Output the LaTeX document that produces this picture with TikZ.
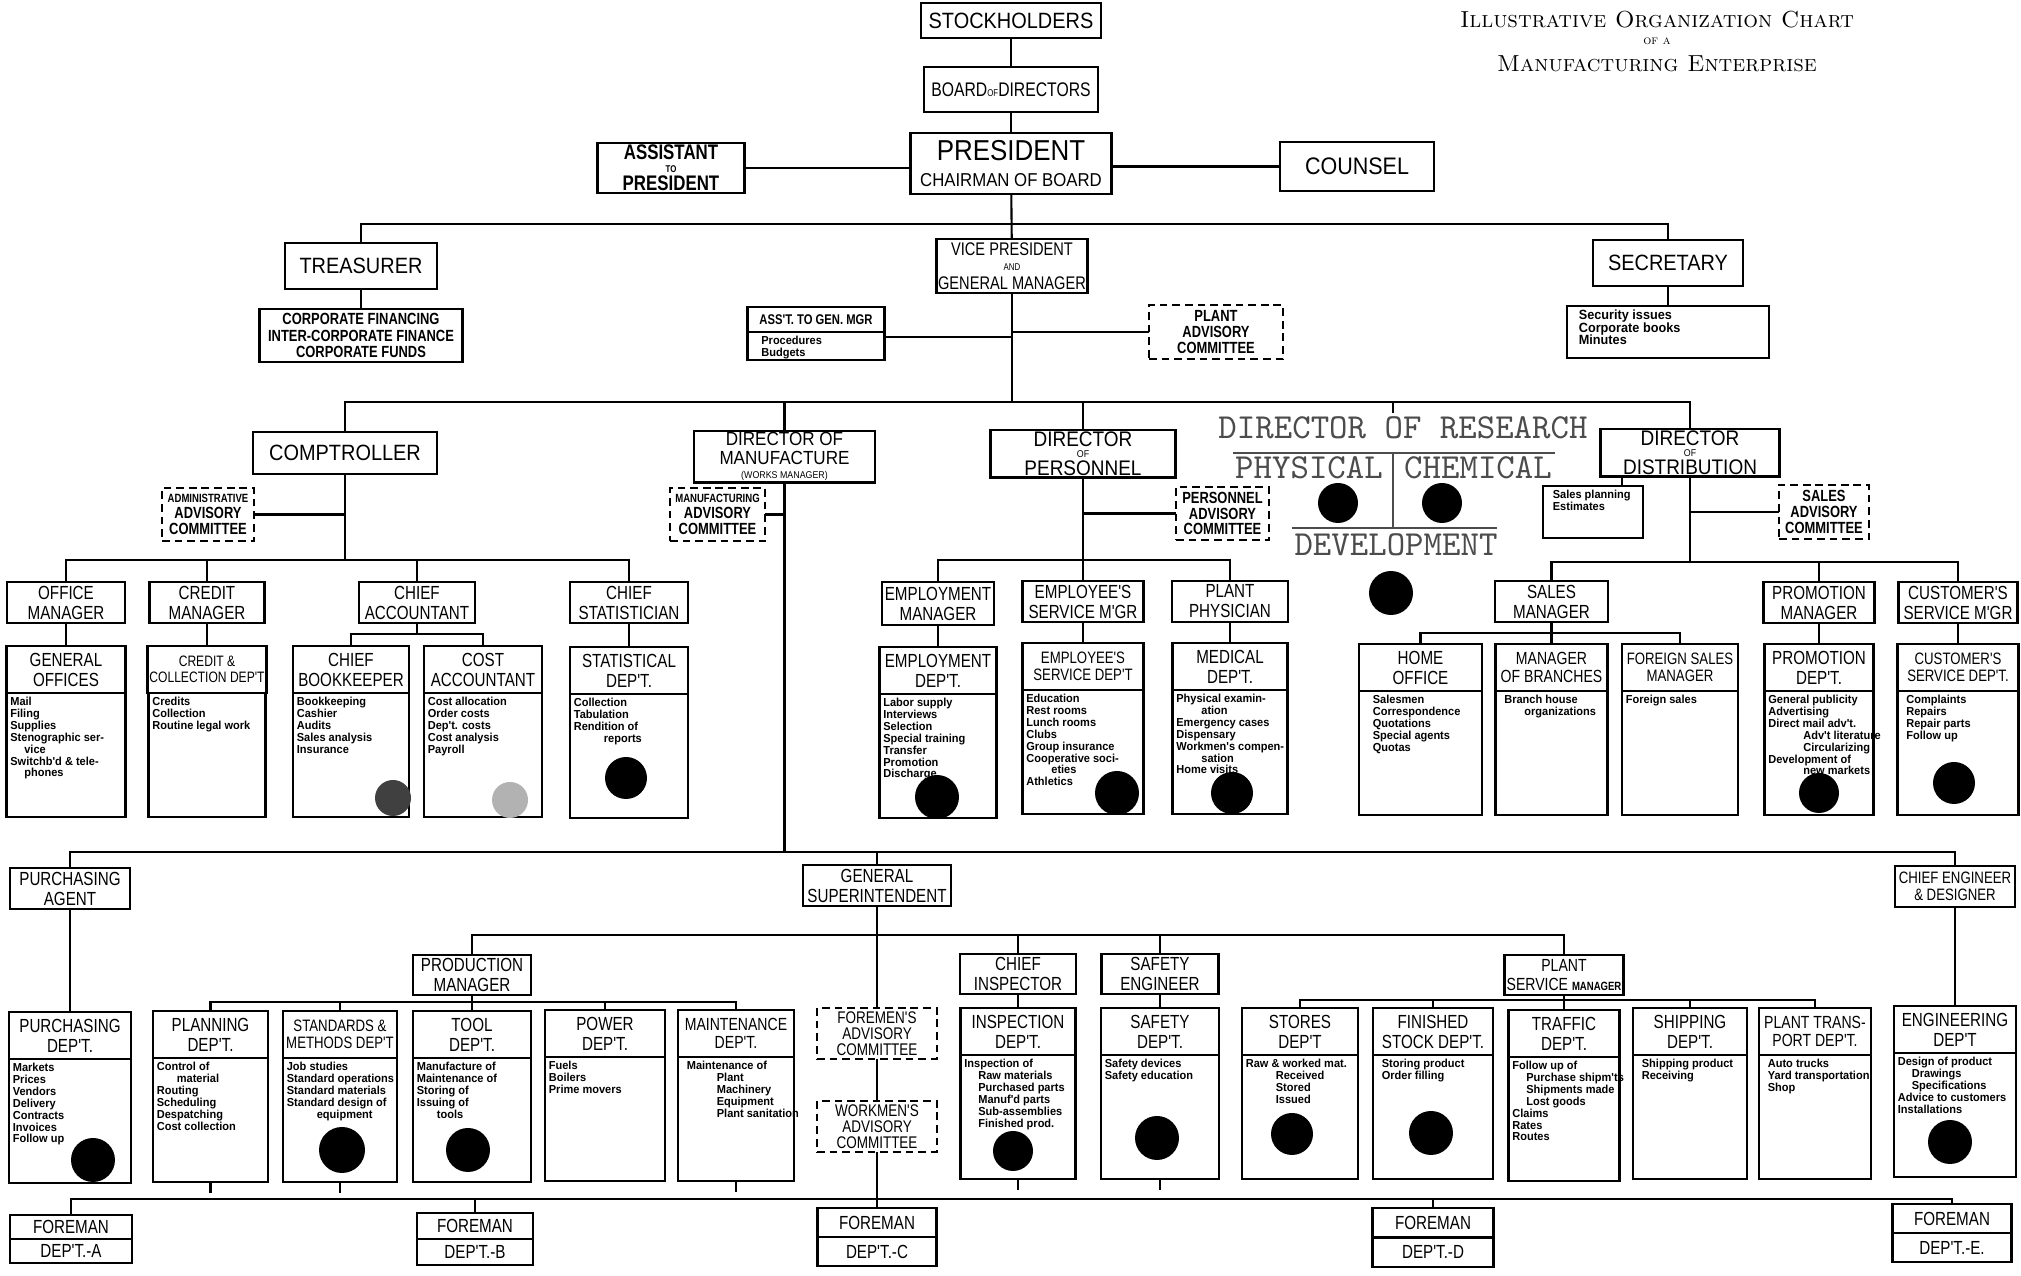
\documentclass[tikz,border=0pt]{standalone}
\usepackage{fontspec}
\newfontfamily\chart{Liberation Sans}[FakeStretch=0.9]
\newfontfamily\chartn{Liberation Sans}[FakeStretch=0.8]
\newfontfamily\chartb{Liberation Sans}[FakeStretch=0.95]
\newcommand\sm[1]{{\fontsize{2.8}{2.8}\selectfont #1}}
\newcommand\ind{\hspace*{1.4mm}}

\begin{document}
\begin{tikzpicture}[x=0.1mm,y=-0.1mm,line width=0.6pt,
    box/.style={draw,line width=0.8pt,align=center,inner sep=0.5pt,outer sep=0pt,anchor=north},
    cbox/.style={box,dash pattern=on 2.2pt off 1.4pt,cmt},
    mgr/.style={box,minimum height=4.1mm,fa},
    dhead/.style={box,minimum height=4.7mm,fa},
    dbody/.style={box,minimum height=12.4mm},
    fbox/.style={box,minimum height=2.6mm,fa},
    items/.style={anchor=north west,align=left,inner sep=0.8pt,font=\chartb\bfseries\fontsize{3.3}{3.4}\selectfont},
    fa/.style={font=\chartn\fontsize{5.4}{5.7}\selectfont},
    fb/.style={font=\chartn\fontsize{5}{5.3}\selectfont},
    fc/.style={font=\chartn\fontsize{4.7}{5}\selectfont},
    fd/.style={font=\chartn\fontsize{4.3}{4.6}\selectfont},
    fe/.style={font=\chart\fontsize{6.3}{7}\selectfont},
    cmt/.style={font=\chartn\bfseries\fontsize{4.6}{4.5}\selectfont},
    res/.style={font=\ttfamily\fontsize{10}{10}\selectfont,text=black!70,inner sep=0pt},
    hole/.style={fill=black}
  ]
\useasboundingbox (0,0) rectangle (2021,1276);

% title
\node[font=\rmfamily\scshape\fontsize{6.6}{7}\selectfont] (ttl) at (1657,20) {Illustrative Organization Chart};
\node[font=\rmfamily\scshape\fontsize{3.6}{4}\selectfont] (ttlb) at (1657,41) {of a};
\node[font=\rmfamily\scshape\fontsize{6.6}{7}\selectfont] (ttlc) at (1657,64) {Manufacturing Enterprise};

% top of the company
\node[box,fe,minimum width=18mm,minimum height=3.5mm] (stock) at (1011,3) {STOCKHOLDERS};
\node[box,font=\chartn\fontsize{5.6}{6}\selectfont,minimum width=17.4mm,minimum height=4.5mm] (board) at (1011,67) {BOARD\sm{OF}DIRECTORS};
\node[box,font=\chart\fontsize{6}{7.4}\selectfont,minimum width=20.1mm,minimum height=6.1mm] (pres) at (1011,133) {{\fontsize{8.2}{8.2}\selectfont PRESIDENT}\\{\fontsize{5.3}{5.3}\selectfont CHAIRMAN OF BOARD}};
\node[box,font=\chartn\bfseries\fontsize{6}{4.8}\selectfont,minimum width=14.7mm,minimum height=5mm] (asst) at (671,143) {ASSISTANT\\[-1.2pt]\sm{TO}\\[0.3pt]PRESIDENT};
\node[box,font=\chart\fontsize{6.8}{7}\selectfont,minimum width=15.4mm,minimum height=4.9mm] (counsel) at (1357,142) {COUNSEL};
\node[box,fe,minimum width=15.2mm,minimum height=4.6mm] (treas) at (361,243) {TREASURER};
\node[box,font=\chartn\bfseries\fontsize{4.6}{4.6}\selectfont,minimum width=20.3mm,minimum height=5.3mm] (treasn) at (361,309) {CORPORATE FINANCING\\INTER-CORPORATE FINANCE\\CORPORATE FUNDS};
\node[box,font=\chartn\fontsize{5.2}{4.4}\selectfont,minimum width=15mm,minimum height=5.4mm] (vp) at (1012,239) {VICE PRESIDENT\\\sm{AND}\\[1pt]GENERAL MANAGER};
\node[box,fe,minimum width=15mm,minimum height=4.6mm] (sec) at (1668,240) {SECRETARY};
\node[box,minimum width=20.2mm,minimum height=5.2mm] (secn) at (1668,306) {};
\node[items,font=\chartb\bfseries\fontsize{3.8}{3.6}\selectfont] (secnT) at ([xshift=0.8mm]secn.north west) {Security issues\\Corporate books\\Minutes};
\node[box,font=\chartn\bfseries\fontsize{4}{4}\selectfont,minimum width=13.7mm,minimum height=2.5mm] (agm) at (816,307) {ASS'T. TO GEN. MGR};
\node[box,minimum width=13.7mm,minimum height=2.8mm] (agmB) at (agm.south) {};
\node[items] (agmT) at ([xshift=1mm]agmB.north west) {Procedures\\Budgets};
\node[cbox,minimum width=13.4mm,minimum height=5.4mm] (pac) at (1216,305) {PLANT\\ADVISORY\\COMMITTEE};

% directors
\node[box,fe,minimum width=18.4mm,minimum height=4.2mm] (comp) at (345,432) {COMPTROLLER};
\node[cbox,minimum width=9.2mm,minimum height=5.3mm] (aac) at (208,488) {{\fontsize{3.4}{3.4}\selectfont ADMINISTRATIVE}\\ADVISORY\\COMMITTEE};
\node[box,font=\chart\fontsize{5.4}{5.4}\selectfont,minimum width=18.1mm,minimum height=4.4mm] (dman) at (784.5,431) {DIRECTOR OF\\MANUFACTURE\\[-1.5pt]\sm{(WORKS MANAGER)}};
\node[cbox,minimum width=9.5mm,minimum height=5.3mm] (mac) at (717.5,488) {{\fontsize{3.4}{3.4}\selectfont MANUFACTURING}\\ADVISORY\\COMMITTEE};
\node[box,font=\chart\fontsize{6}{4.6}\selectfont,minimum width=18.5mm,minimum height=4.4mm] (dper) at (1083,430) {DIRECTOR\\[-1.4pt]\sm{OF}\\[0.5pt]PERSONNEL};
\node[cbox,minimum width=9.3mm,minimum height=5.3mm] (pcom) at (1222.5,487) {PERSONNEL\\ADVISORY\\COMMITTEE};
\node[box,font=\chart\fontsize{6}{4.6}\selectfont,minimum width=17.9mm,minimum height=4.3mm] (ddist) at (1690,429) {DIRECTOR\\[-1.4pt]\sm{OF}\\[0.5pt]DISTRIBUTION};
\node[box,minimum width=10mm,minimum height=5.2mm] (splan) at (1593,486) {};
\node[items] (splanT) at ([xshift=0.6mm]splan.north west) {Sales planning\\Estimates};
\node[cbox,minimum width=9mm,minimum height=5.4mm] (sac) at (1824,485) {SALES\\ADVISORY\\COMMITTEE};

% research
\node[res] (dres) at (1403,428) {DIRECTOR OF RESEARCH};
\node[res] (phy) at (1309,468) {PHYSICAL};
\node[res] (chem) at (1478,468) {CHEMICAL};
\node[res] (devel) at (1396,545) {DEVELOPMENT};
\draw[black!70] (1233,453) -- (1555,453) (1393,453) -- (1393,528) (1292,528) -- (1497,528);

% managers under the directors
\node[mgr,minimum width=11.8mm] (offm) at (66,582) {OFFICE\\MANAGER};
\node[mgr,minimum width=11.5mm] (credm) at (207,582) {CREDIT\\MANAGER};
\node[mgr,minimum width=11.6mm] (chacc) at (417,582) {CHIEF\\ACCOUNTANT};
\node[mgr,minimum width=11.8mm] (chstat) at (629,582) {CHIEF\\STATISTICIAN};
\node[mgr,minimum width=11.2mm,minimum height=4.3mm] (empm) at (938,582) {EMPLOYMENT\\MANAGER};
\node[mgr,minimum width=12.1mm] (esm) at (1083,581) {EMPLOYEE'S\\SERVICE M'GR};
\node[mgr,minimum width=11.6mm] (phys) at (1230,581) {PLANT\\PHYSICIAN};
\node[mgr,minimum width=11.3mm] (salesm) at (1551.5,581) {SALES\\MANAGER};
\node[mgr,minimum width=11.1mm] (promm) at (1819,582) {PROMOTION\\MANAGER};
\node[mgr,minimum width=11.9mm] (custm) at (1958,582) {CUSTOMER'S\\SERVICE M'GR};

% departments, upper row
\node[dhead,minimum width=11.9mm] (genoff) at (66,646) {GENERAL\\OFFICES};
\node[dbody,minimum width=11.9mm] (genoffB) at (genoff.south) {};
\node[items] (genoffT) at (genoffB.north west) {Mail\\Filing\\Supplies\\Stenographic ser-\\\ind vice\\Switchb'd \& tele-\\\ind phones};
\node[dhead,fd,minimum width=11.7mm] (credd) at (207,646) {CREDIT \&\\COLLECTION DEP'T};
\node[dbody,minimum width=11.7mm] (creddB) at (credd.south) {};
\node[items] (creddT) at (creddB.north west) {Credits\\Collection\\Routine legal work};
\node[dhead,minimum width=11.6mm] (bookk) at (351,646) {CHIEF\\BOOKKEEPER};
\node[dbody,minimum width=11.6mm] (bookkB) at (bookk.south) {};
\node[items] (bookkT) at (bookkB.north west) {Bookkeeping\\Cashier\\Audits\\Sales analysis\\Insurance};
\node[dhead,minimum width=11.8mm] (costa) at (483,646) {COST\\ACCOUNTANT};
\node[dbody,minimum width=11.8mm] (costaB) at (costa.south) {};
\node[items] (costaT) at (costaB.north west) {Cost allocation\\Order costs\\Dep't. costs\\Cost analysis\\Payroll};
\node[dhead,minimum width=11.8mm] (statd) at (629,647) {STATISTICAL\\DEP'T.};
\node[dbody,minimum width=11.8mm] (statdB) at (statd.south) {};
\node[items] (statdT) at (statdB.north west) {Collection\\Tabulation\\Rendition of\\\hspace*{3mm}reports};
\node[dhead,minimum width=11.7mm] (empd) at (938,647) {EMPLOYMENT\\DEP'T.};
\node[dbody,minimum width=11.7mm] (empdB) at (empd.south) {};
\node[items] (empdT) at (empdB.north west) {Labor supply\\Interviews\\Selection\\Special training\\Transfer\\Promotion\\Discharge};
\node[dhead,fc,minimum width=12.1mm] (esd) at (1083,643) {EMPLOYEE'S\\SERVICE DEP'T};
\node[dbody,minimum width=12.1mm] (esdB) at (esd.south) {};
\node[items] (esdT) at (esdB.north west) {Education\\Rest rooms\\Lunch rooms\\Clubs\\Group insurance\\Cooperative soci-\\\hspace*{2.5mm}eties\\Athletics};
\node[dhead,minimum width=11.5mm] (medd) at (1230,643) {MEDICAL\\DEP'T.};
\node[dbody,minimum width=11.5mm] (meddB) at (medd.south) {};
\node[items] (meddT) at (meddB.north west) {Physical examin-\\\hspace*{2.5mm}ation\\Emergency cases\\Dispensary\\Workmen's compen-\\\hspace*{2.5mm}sation\\Home visits};
\node[dhead,minimum width=12.3mm] (homeo) at (1420.5,644) {HOME\\OFFICE};
\node[dbody,minimum width=12.3mm] (homeoB) at (homeo.south) {};
\node[items] (homeoT) at ([xshift=1mm]homeoB.north west) {Salesmen\\Correspondence\\Quotations\\Special agents\\Quotas};
\node[dhead,fb,minimum width=11.2mm] (mbr) at (1551.5,644) {MANAGER\\OF BRANCHES};
\node[dbody,minimum width=11.2mm] (mbrB) at (mbr.south) {};
\node[items] (mbrT) at ([xshift=0.5mm]mbrB.north west) {Branch house\\\hspace*{2mm}organizations};
\node[dhead,fc,minimum width=11.6mm] (fsm) at (1680,644) {FOREIGN SALES\\MANAGER};
\node[dbody,minimum width=11.6mm] (fsmB) at (fsm.south) {};
\node[items] (fsmT) at (fsmB.north west) {Foreign sales};
\node[dhead,minimum width=10.9mm] (promd) at (1819,644) {PROMOTION\\DEP'T.};
\node[dbody,minimum width=10.9mm] (promdB) at (promd.south) {};
\node[items] (promdT) at (promdB.north west) {General publicity\\Advertising\\Direct mail adv't.\\\hspace*{3.5mm}Adv't literature\\\hspace*{3.5mm}Circularizing\\Development of\\\hspace*{3.5mm}new markets};
\node[dhead,fc,minimum width=12.1mm] (custd) at (1958,644) {CUSTOMER'S\\SERVICE DEP'T.};
\node[dbody,minimum width=12.1mm] (custdB) at (custd.south) {};
\node[items] (custdT) at ([xshift=0.5mm]custdB.north west) {Complaints\\Repairs\\Repair parts\\Follow up};

% works organization
\node[mgr,minimum width=12mm] (purch) at (70,868) {PURCHASING\\AGENT};
\node[mgr,minimum width=14.8mm] (gsup) at (877,865) {GENERAL\\SUPERINTENDENT};
\node[mgr,fc,minimum width=12mm] (cheng) at (1955,866) {CHIEF ENGINEER\\\& DESIGNER};
\node[mgr,minimum width=11.8mm,minimum height=4mm] (prodm) at (472,955) {PRODUCTION\\MANAGER};
\node[mgr,minimum width=11.6mm,minimum height=4mm] (chinsp) at (1018,954) {CHIEF\\INSPECTOR};
\node[mgr,minimum width=11.7mm,minimum height=4mm] (safeng) at (1160,954) {SAFETY\\ENGINEER};
\node[mgr,font=\chartn\fontsize{5}{5.3}\selectfont,minimum width=11.2mm,minimum height=4mm] (psm) at (1564,955) {PLANT\\SERVICE {\bfseries\fontsize{3.4}{3.4}\selectfont MANAGER}};
\node[cbox,font=\chartn\fontsize{4.8}{4.5}\selectfont,minimum width=12mm,minimum height=5.1mm] (fac) at (877,1008) {FOREMEN'S\\ADVISORY\\COMMITTEE};
\node[cbox,font=\chartn\fontsize{4.8}{4.5}\selectfont,minimum width=12mm,minimum height=5.1mm] (wac) at (877,1101) {WORKMEN'S\\ADVISORY\\COMMITTEE};

% departments, lower row
\node[dhead,minimum width=12.2mm] (purd) at (70,1012) {PURCHASING\\DEP'T.};
\node[dbody,minimum width=12.2mm] (purdB) at (purd.south) {};
\node[items] (purdT) at (purdB.north west) {Markets\\Prices\\Vendors\\Delivery\\Contracts\\Invoices\\Follow up};
\node[dhead,minimum width=11.5mm] (pland) at (210.5,1011) {PLANNING\\DEP'T.};
\node[dbody,minimum width=11.5mm] (plandB) at (pland.south) {};
\node[items] (plandT) at (plandB.north west) {Control of\\\hspace*{2mm}material\\Routing\\Scheduling\\Despatching\\Cost collection};
\node[dhead,fc,minimum width=11.4mm] (stdd) at (340,1011) {STANDARDS \&\\METHODS DEP'T};
\node[dbody,minimum width=11.4mm] (stddB) at (stdd.south) {};
\node[items] (stddT) at (stddB.north west) {Job studies\\Standard operations\\Standard materials\\Standard design of\\\hspace*{3mm}equipment};
\node[dhead,minimum width=11.8mm] (toold) at (472,1011) {TOOL\\DEP'T.};
\node[dbody,minimum width=11.8mm] (tooldB) at (toold.south) {};
\node[items] (tooldT) at (tooldB.north west) {Manufacture of\\Maintenance of\\Storing of\\Issuing of\\\hspace*{2mm}tools};
\node[dhead,minimum width=12mm] (powd) at (605,1010) {POWER\\DEP'T.};
\node[dbody,minimum width=12mm] (powdB) at (powd.south) {};
\node[items] (powdT) at (powdB.north west) {Fuels\\Boilers\\Prime movers};
\node[dhead,fb,minimum width=11.6mm] (maintd) at (736,1010) {MAINTENANCE\\DEP'T.};
\node[dbody,minimum width=11.6mm] (maintdB) at (maintd.south) {};
\node[items] (maintdT) at ([xshift=0.5mm]maintdB.north west) {Maintenance of\\\hspace*{3mm}Plant\\\hspace*{3mm}Machinery\\\hspace*{3mm}Equipment\\\hspace*{3mm}Plant sanitation};
\node[dhead,minimum width=11.5mm] (inspd) at (1018,1008) {INSPECTION\\DEP'T.};
\node[dbody,minimum width=11.5mm] (inspdB) at (inspd.south) {};
\node[items] (inspdT) at (inspdB.north west) {Inspection of\\\ind Raw materials\\\ind Purchased parts\\\ind Manuf'd parts\\\ind Sub-assemblies\\\ind Finished prod.};
\node[dhead,minimum width=11.8mm] (safed) at (1160,1008) {SAFETY\\DEP'T.};
\node[dbody,minimum width=11.8mm] (safedB) at (safed.south) {};
\node[items] (safedT) at (safedB.north west) {Safety devices\\Safety education};
\node[dhead,minimum width=11.6mm] (stored) at (1300,1008) {STORES\\DEP'T};
\node[dbody,minimum width=11.6mm] (storedB) at (stored.south) {};
\node[items] (storedT) at (storedB.north west) {Raw \& worked mat.\\\hspace*{3mm}Received\\\hspace*{3mm}Stored\\\hspace*{3mm}Issued};
\node[dhead,minimum width=12mm] (finsd) at (1433,1008) {FINISHED\\STOCK DEP'T.};
\node[dbody,minimum width=12mm] (finsdB) at (finsd.south) {};
\node[items] (finsdT) at ([xshift=0.5mm]finsdB.north west) {Storing product\\Order filling};
\node[dhead,minimum width=11.1mm] (trafd) at (1564,1010) {TRAFFIC\\DEP'T.};
\node[dbody,minimum width=11.1mm] (trafdB) at (trafd.south) {};
\node[items] (trafdT) at (trafdB.north west) {Follow up of\\\ind Purchase shipm'ts\\\ind Shipments made\\\ind Lost goods\\Claims\\Rates\\Routes};
\node[dhead,minimum width=11.4mm] (shipd) at (1690,1008) {SHIPPING\\DEP'T.};
\node[dbody,minimum width=11.4mm] (shipdB) at (shipd.south) {};
\node[items] (shipdT) at ([xshift=0.5mm]shipdB.north west) {Shipping product\\Receiving};
\node[dhead,fb,minimum width=11.2mm] (ptd) at (1815,1008) {PLANT TRANS-\\PORT DEP'T.};
\node[dbody,minimum width=11.2mm] (ptdB) at (ptd.south) {};
\node[items] (ptdT) at ([xshift=0.5mm]ptdB.north west) {Auto trucks\\Yard transportation\\Shop};
\node[dhead,minimum width=12.2mm] (engd) at (1955,1006) {ENGINEERING\\DEP'T};
\node[dbody,minimum width=12.2mm] (engdB) at (engd.south) {};
\node[items] (engdT) at (engdB.north west) {Design of product\\\ind Drawings\\\ind Specifications\\Advice to customers\\Installations};

% foremen
\node[fbox,minimum width=12.2mm,minimum height=2.4mm] (forA) at (71,1215) {FOREMAN};
\node[fbox,minimum width=12.2mm,minimum height=2.4mm] (forAB) at (forA.south) {DEP'T.-A};
\node[fbox,minimum width=11.6mm] (forB) at (475,1213) {FOREMAN};
\node[fbox,minimum width=11.6mm] (forBB) at (forB.south) {DEP'T.-B};
\node[fbox,minimum width=11.9mm,minimum height=2.9mm] (forC) at (877,1208) {FOREMAN};
\node[fbox,minimum width=11.9mm,minimum height=2.9mm] (forCB) at (forC.south) {DEP'T.-C};
\node[fbox,minimum width=12.1mm,minimum height=2.95mm] (forD) at (1433,1208) {FOREMAN};
\node[fbox,minimum width=12.1mm,minimum height=2.95mm] (forDB) at (forD.south) {DEP'T.-D};
\node[fbox,minimum width=11.9mm,minimum height=2.9mm] (forE) at (1952,1204) {FOREMAN};
\node[fbox,minimum width=11.9mm,minimum height=2.9mm] (forEB) at (forE.south) {DEP'T.-E.};

% connectors, top
\draw (stock) -- (board);
\draw (board) -- (pres);
\draw (asst.east) -- (asst.east -| pres.west);
\draw (counsel.west) -- (counsel.west -| pres.east);
\draw (pres) -- (vp);
\coordinate (tb) at (1011,224);
\draw (treas.north) |- (tb) -| (sec.north);
\draw (treas) -- (treasn);
\draw (sec) -- (secn);
\draw ([yshift=-0.5mm]agm.south east) -- ([yshift=-0.5mm]agm.south east -| vp.south);
\draw (pac.west) -- (pac.west -| vp.south);
\coordinate (b2) at (1012,402);
\draw (vp) -- (b2);
\draw (comp.north) |- (b2) -| (ddist.north);
\draw (dman.north) -- (dman.north |- b2);
\draw (dper.north) -- (dper.north |- b2);
\coordinate (rs) at (1393,413);
\draw (rs) -- (rs |- b2);

% connectors, comptroller
\coordinate (cb) at (345,560);
\draw (comp) -- (cb);
\draw (aac.east) -- (aac.east -| comp.south);
\draw (offm.north) |- (cb) -| (chstat.north);
\draw (credm.north) -- (credm.north |- cb);
\draw (chacc.north) -- (chacc.north |- cb);
\draw (offm) -- (genoff);
\draw (credm) -- (credd);
\draw (chstat) -- (statd);
\coordinate (ab) at (417,634);
\draw (chacc) -- (ab);
\draw (bookk.north) |- (ab) -| (costa.north);

% connectors, personnel
\coordinate (pb) at (1083,560);
\draw (dper) -- (esm);
\draw (pcom.west) -- (pcom.west -| dper.south);
\draw (empm.north) |- (pb) -| (phys.north);
\draw (empm) -- (empd);
\draw (esm) -- (esd);
\draw (phys) -- (medd);

% connectors, distribution
\coordinate (db) at (1690,562);
\coordinate (sp) at (1622,0);
\draw (ddist) -- (db);
\draw (splan.north -| sp) -- (ddist.south -| sp);
\draw (sac.west) -- (sac.west -| ddist.south);
\draw (salesm.north) |- (db) -| (custm.north);
\draw (promm.north) -- (promm.north |- db);
\draw (promm) -- (promd);
\draw (custm) -- (custd);
\coordinate (sb) at (1551.5,633);
\draw (salesm) -- (sb);
\draw (homeo.north) |- (sb) -| (fsm.north);
\draw (sb) -- (mbr);

% connectors, manufacture
\coordinate (mb) at (784.5,852);
\draw (dman) -- (mb);
\draw (mac.east) -- (mac.east -| dman.south);
\draw (purch.north) |- (mb) -| (cheng.north);
\draw (gsup.north) -- (gsup.north |- mb);
\draw (purch) -- (purd);
\draw (cheng) -- (engd);
\coordinate (gb) at (877,935);
\draw (gsup) -- (fac);
\draw (prodm.north) |- (gb) -| (psm.north);
\draw (chinsp.north) -- (chinsp.north |- gb);
\draw (safeng.north) -- (safeng.north |- gb);
\draw (fac) -- (wac);
\draw (wac) -- (forC);
\coordinate (prb) at (472,1002);
\draw (prodm) -- (toold);
\draw (pland.north) |- (prb) -| (maintd.north);
\draw (stdd.north) -- (stdd.north |- prb);
\draw (powd.north) -- (powd.north |- prb);
\draw (chinsp) -- (inspd);
\draw (safeng) -- (safed);
\coordinate (psb) at (1564,1000);
\draw (psm) -- (trafd);
\draw (stored.north) |- (psb) -| (ptd.north);
\draw (finsd.north) -- (finsd.north |- psb);
\draw (shipd.north) -- (shipd.north |- psb);
\coordinate (fb) at (877,1199);
\draw (forA.north) |- (fb) -| (forE.north);
\draw (forB.north) -- (forB.north |- fb);
\draw (forD.north) -- (forD.north |- fb);
\foreach \d in {plandB,stddB,maintdB,inspdB,safedB}
  \draw[dashed] (\d.south) -- (\d.south |- fb);

% punched holes
\foreach \x/\y/\r in {1338/503/2.0,1442/503/2.0,1391/593/2.2,626/778/2.1,937/797/2.2,1117/793/2.2,
    1232/793/2.1,1819/793/2.0,1954/783/2.1,93/1160/2.2,342/1150/2.3,468/1150/2.2,1013/1151/2.0,
    1157/1138/2.2,1292/1134/2.1,1431/1133/2.2,1950/1142/2.2}
  \fill[hole] (\x,\y) circle (\r mm);
\fill[black!75] (393,798) circle (1.8mm);
\fill[black!30] (510,800) circle (1.8mm);
\end{tikzpicture}
\end{document}
